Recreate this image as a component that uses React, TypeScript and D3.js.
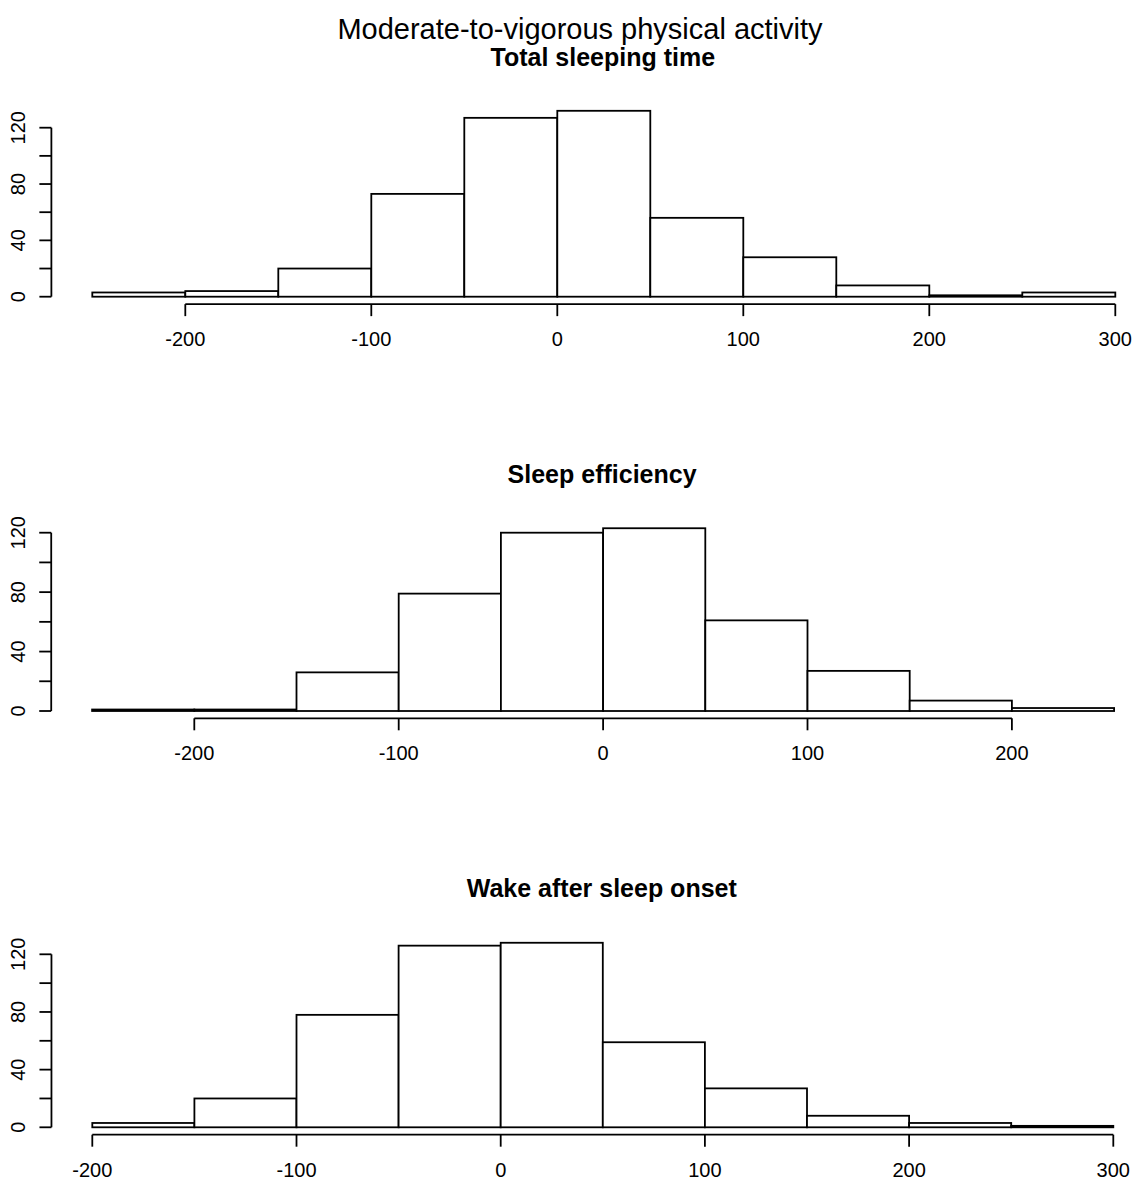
import React from "react";
import * as d3 from "d3";

// histogram data (bin width 50)
const mainTitle = "Moderate-to-vigorous physical activity";

const tstTitle = "Total sleeping time";
const tstBreaks = [-250, -200, -150, -100, -50, 0, 50, 100, 150, 200, 250, 300];
const tstCounts = [3, 4, 20, 73, 127, 132, 56, 28, 8, 1, 3];
const tstXTicks = [-200, -100, 0, 100, 200, 300];

const seTitle = "Sleep efficiency";
const seBreaks = [-250, -200, -150, -100, -50, 0, 50, 100, 150, 200, 250];
const seCounts = [1, 1, 26, 79, 120, 123, 61, 27, 7, 2];
const seXTicks = [-200, -100, 0, 100, 200];

const wasoTitle = "Wake after sleep onset";
const wasoBreaks = [-200, -150, -100, -50, 0, 50, 100, 150, 200, 250, 300];
const wasoCounts = [3, 20, 78, 126, 128, 59, 27, 8, 3, 1];
const wasoXTicks = [-200, -100, 0, 100, 200, 300];

const yTicks = [0, 20, 40, 60, 80, 100, 120];
const yLabels = [0, 40, 80, 120];

// pixel layout for each panel
const panels = [
  { title: tstTitle, breaks: tstBreaks, counts: tstCounts, xTicks: tstXTicks, x0: 92.3, pxPer100: 186, y0: 296.7, y120: 127.7, titleY: 66 },
  { title: seTitle, breaks: seBreaks, counts: seCounts, xTicks: seXTicks, x0: 92.1, pxPer100: 204.4, y0: 711, y120: 532.7, titleY: 483 },
  { title: wasoTitle, breaks: wasoBreaks, counts: wasoCounts, xTicks: wasoXTicks, x0: 92.3, pxPer100: 204.2, y0: 1127.3, y120: 954.3, titleY: 897 },
];

const W = 1135;
const H = 1184;
const font = "'Liberation Sans', Arial, sans-serif";
const lw = 1.8;

const Panel = ({ p }) => {
  const lo = p.breaks[0];
  const hi = p.breaks[p.breaks.length - 1];
  const x = d3.scaleLinear()
    .domain([lo, hi])
    .range([p.x0, p.x0 + ((hi - lo) / 100) * p.pxPer100]);
  const y = d3.scaleLinear().domain([0, 120]).range([p.y0, p.y120]);

  // R style: axis sits at the edge of the 4%-expanded plot region
  const yMax = d3.max(p.counts);
  const axisY = y(-yMax * 0.04);
  const axisX = x(lo - (hi - lo) * 0.04);
  const centerX = (axisX + x(hi + (hi - lo) * 0.04)) / 2;
  const tick = 12;

  const bins = p.counts.map((c, i) => ({ x0: p.breaks[i], x1: p.breaks[i + 1], c }));

  return (
    <g>
      <text x={centerX - 1} y={p.titleY} textAnchor="middle" fontFamily={font} fontWeight="bold" fontSize={25}>
        {p.title}
      </text>
      {bins.map((b, i) => (
        <rect
          key={i}
          x={x(b.x0)}
          y={y(b.c)}
          width={x(b.x1) - x(b.x0)}
          height={y(0) - y(b.c)}
          fill="white"
          stroke="black"
          strokeWidth={lw}
        />
      ))}
      {/* y axis */}
      <line x1={axisX} x2={axisX} y1={y(0)} y2={y(120)} stroke="black" strokeWidth={lw} />
      {yTicks.map((t) => (
        <line key={t} x1={axisX - tick} x2={axisX} y1={y(t)} y2={y(t)} stroke="black" strokeWidth={lw} />
      ))}
      {yLabels.map((t) => (
        <text
          key={t}
          transform={`translate(${axisX - 26},${y(t)}) rotate(-90)`}
          textAnchor="middle"
          fontFamily={font}
          fontSize={20}
        >
          {t}
        </text>
      ))}
      {/* x axis */}
      <line
        x1={x(p.xTicks[0])}
        x2={x(p.xTicks[p.xTicks.length - 1])}
        y1={axisY}
        y2={axisY}
        stroke="black"
        strokeWidth={lw}
      />
      {p.xTicks.map((t) => (
        <g key={t}>
          <line x1={x(t)} x2={x(t)} y1={axisY} y2={axisY + tick} stroke="black" strokeWidth={lw} />
          <text x={x(t)} y={axisY + 42} textAnchor="middle" fontFamily={font} fontSize={20}>
            {t}
          </text>
        </g>
      ))}
    </g>
  );
};

export default function App() {
  return (
    <div style={{ position: "absolute", left: 0, top: 0, background: "white" }}>
      <svg width={W} height={H} style={{ display: "block" }}>
        <rect width={W} height={H} fill="white" />
        <text x={580} y={39} textAnchor="middle" fontFamily={font} fontSize={29}>
          {mainTitle}
        </text>
        {panels.map((p, i) => (
          <Panel key={i} p={p} />
        ))}
      </svg>
    </div>
  );
}
